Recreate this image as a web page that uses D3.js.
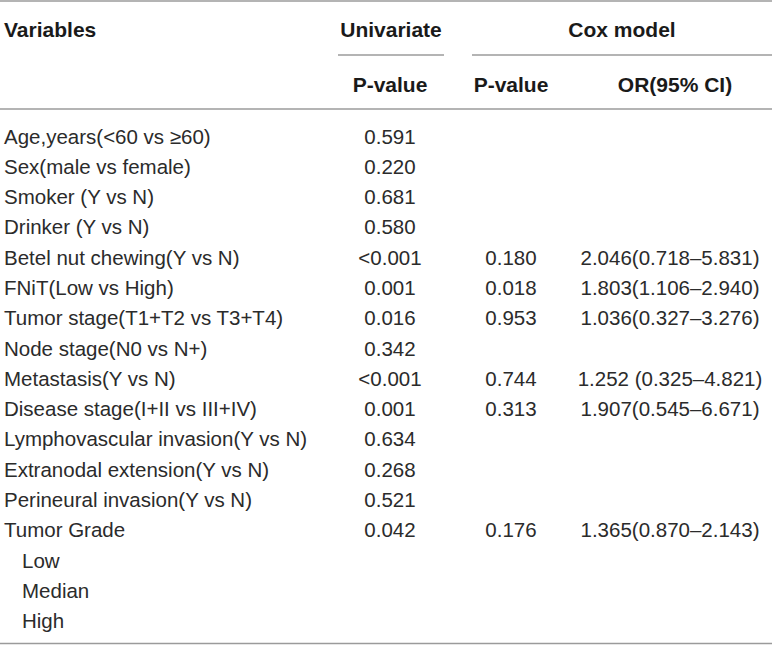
<!DOCTYPE html>
<html>
<head>
<meta charset="utf-8">
<script src="https://cdn.jsdelivr.net/npm/d3@7"></script>
<style>
  body { margin: 0; background: #fff; }
  svg { display: block; font-family: "Liberation Sans", Arial, Helvetica, sans-serif; }
</style>
</head>
<body>
<div id="table"></div>
<script>
'use strict'

// row labels (indented rows are sub-levels of Tumor Grade)
const variables = [
  'Age,years(<60 vs \u226560)', 'Sex(male vs female)', 'Smoker (Y vs N)', 'Drinker (Y vs N)',
  'Betel nut chewing(Y vs N)', 'FNiT(Low vs High)', 'Tumor stage(T1+T2 vs T3+T4)',
  'Node stage(N0 vs N+)', 'Metastasis(Y vs N)', 'Disease stage(I+II vs III+IV)',
  'Lymphovascular invasion(Y vs N)', 'Extranodal extension(Y vs N)',
  'Perineural invasion(Y vs N)', 'Tumor Grade', 'Low', 'Median', 'High'
];
const subLevels = ['Low', 'Median', 'High'];

const univariateP = ['0.591', '0.220', '0.681', '0.580', '<0.001', '0.001', '0.016', '0.342',
  '<0.001', '0.001', '0.634', '0.268', '0.521', '0.042', '', '', ''];
const coxP = ['', '', '', '', '0.180', '0.018', '0.953', '', '0.744', '0.313', '', '', '', '0.176', '', '', ''];
const coxOR = ['', '', '', '', '2.046(0.718\u20135.831)', '1.803(1.106\u20132.940)', '1.036(0.327\u20133.276)', '',
  '1.252 (0.325\u20134.821)', '1.907(0.545\u20136.671)', '', '', '', '1.365(0.870\u20132.143)', '', '', ''];

const columns = ['label', 'uni', 'coxP', 'coxOR'];

const width = 772;
const height = 645;

const svg = d3.select('#table').append('svg')
  .attr('width', width)
  .attr('height', height);

// row scale: band centres for the body rows
const y = d3.scaleBand()
  .domain(d3.range(variables.length))
  .range([121, 636]);

// column centres
const x = d3.scaleOrdinal()
  .domain(columns)
  .range([4, 390, 511, 670]);

const lineColor = '#9b9b9b';
const textColor = '#2b2b2b';

// rules
const rules = [
  { x1: 0, x2: width, y: 1, w: 1.6 },
  { x1: 338, x2: 444, y: 55, w: 1.3 },
  { x1: 472, x2: width, y: 55, w: 1.3 },
  { x1: 0, x2: width, y: 109, w: 1.6 },
  { x1: 0, x2: width, y: 643.5, w: 1.6 }
];
svg.selectAll('line.rule')
  .data(rules)
  .join('line')
  .attr('class', 'rule')
  .attr('x1', d => d.x1)
  .attr('x2', d => d.x2)
  .attr('y1', d => d.y)
  .attr('y2', d => d.y)
  .attr('stroke', lineColor)
  .attr('stroke-width', d => d.w);

// header
const header = [
  { text: 'Variables', x: 4, y: 37, anchor: 'start' },
  { text: 'Univariate', x: 391, y: 37, anchor: 'middle' },
  { text: 'Cox model', x: 622, y: 37, anchor: 'middle' },
  { text: 'P-value', x: x('uni'), y: 92, anchor: 'middle' },
  { text: 'P-value', x: x('coxP'), y: 92, anchor: 'middle' },
  { text: 'OR(95% CI)', x: 675, y: 92, anchor: 'middle' }
];
svg.selectAll('text.head')
  .data(header)
  .join('text')
  .attr('class', 'head')
  .attr('x', d => d.x)
  .attr('y', d => d.y)
  .attr('text-anchor', d => d.anchor)
  .attr('font-size', 21)
  .attr('font-weight', 'bold')
  .attr('fill', '#1a1a1a')
  .text(d => d.text);

// body rows
const rows = svg.selectAll('g.row')
  .data(variables.map((v, i) => ({ label: v, uni: univariateP[i], coxP: coxP[i], coxOR: coxOR[i], i })))
  .join('g')
  .attr('class', 'row')
  .attr('transform', d => `translate(0, ${y(d.i) + y.bandwidth() / 2})`);

rows.append('text')
  .attr('x', d => subLevels.includes(d.label) && d.i > 13 ? 22 : x('label'))
  .attr('dy', '0.36em')
  .attr('font-size', 20.5)
  .attr('fill', textColor)
  .text(d => d.label);

['uni', 'coxP', 'coxOR'].forEach(col => {
  rows.append('text')
    .attr('x', x(col))
    .attr('dy', '0.36em')
    .attr('text-anchor', 'middle')
    .attr('font-size', 20.5)
    .attr('fill', textColor)
    .text(d => d[col]);
});
</script>
</body>
</html>
